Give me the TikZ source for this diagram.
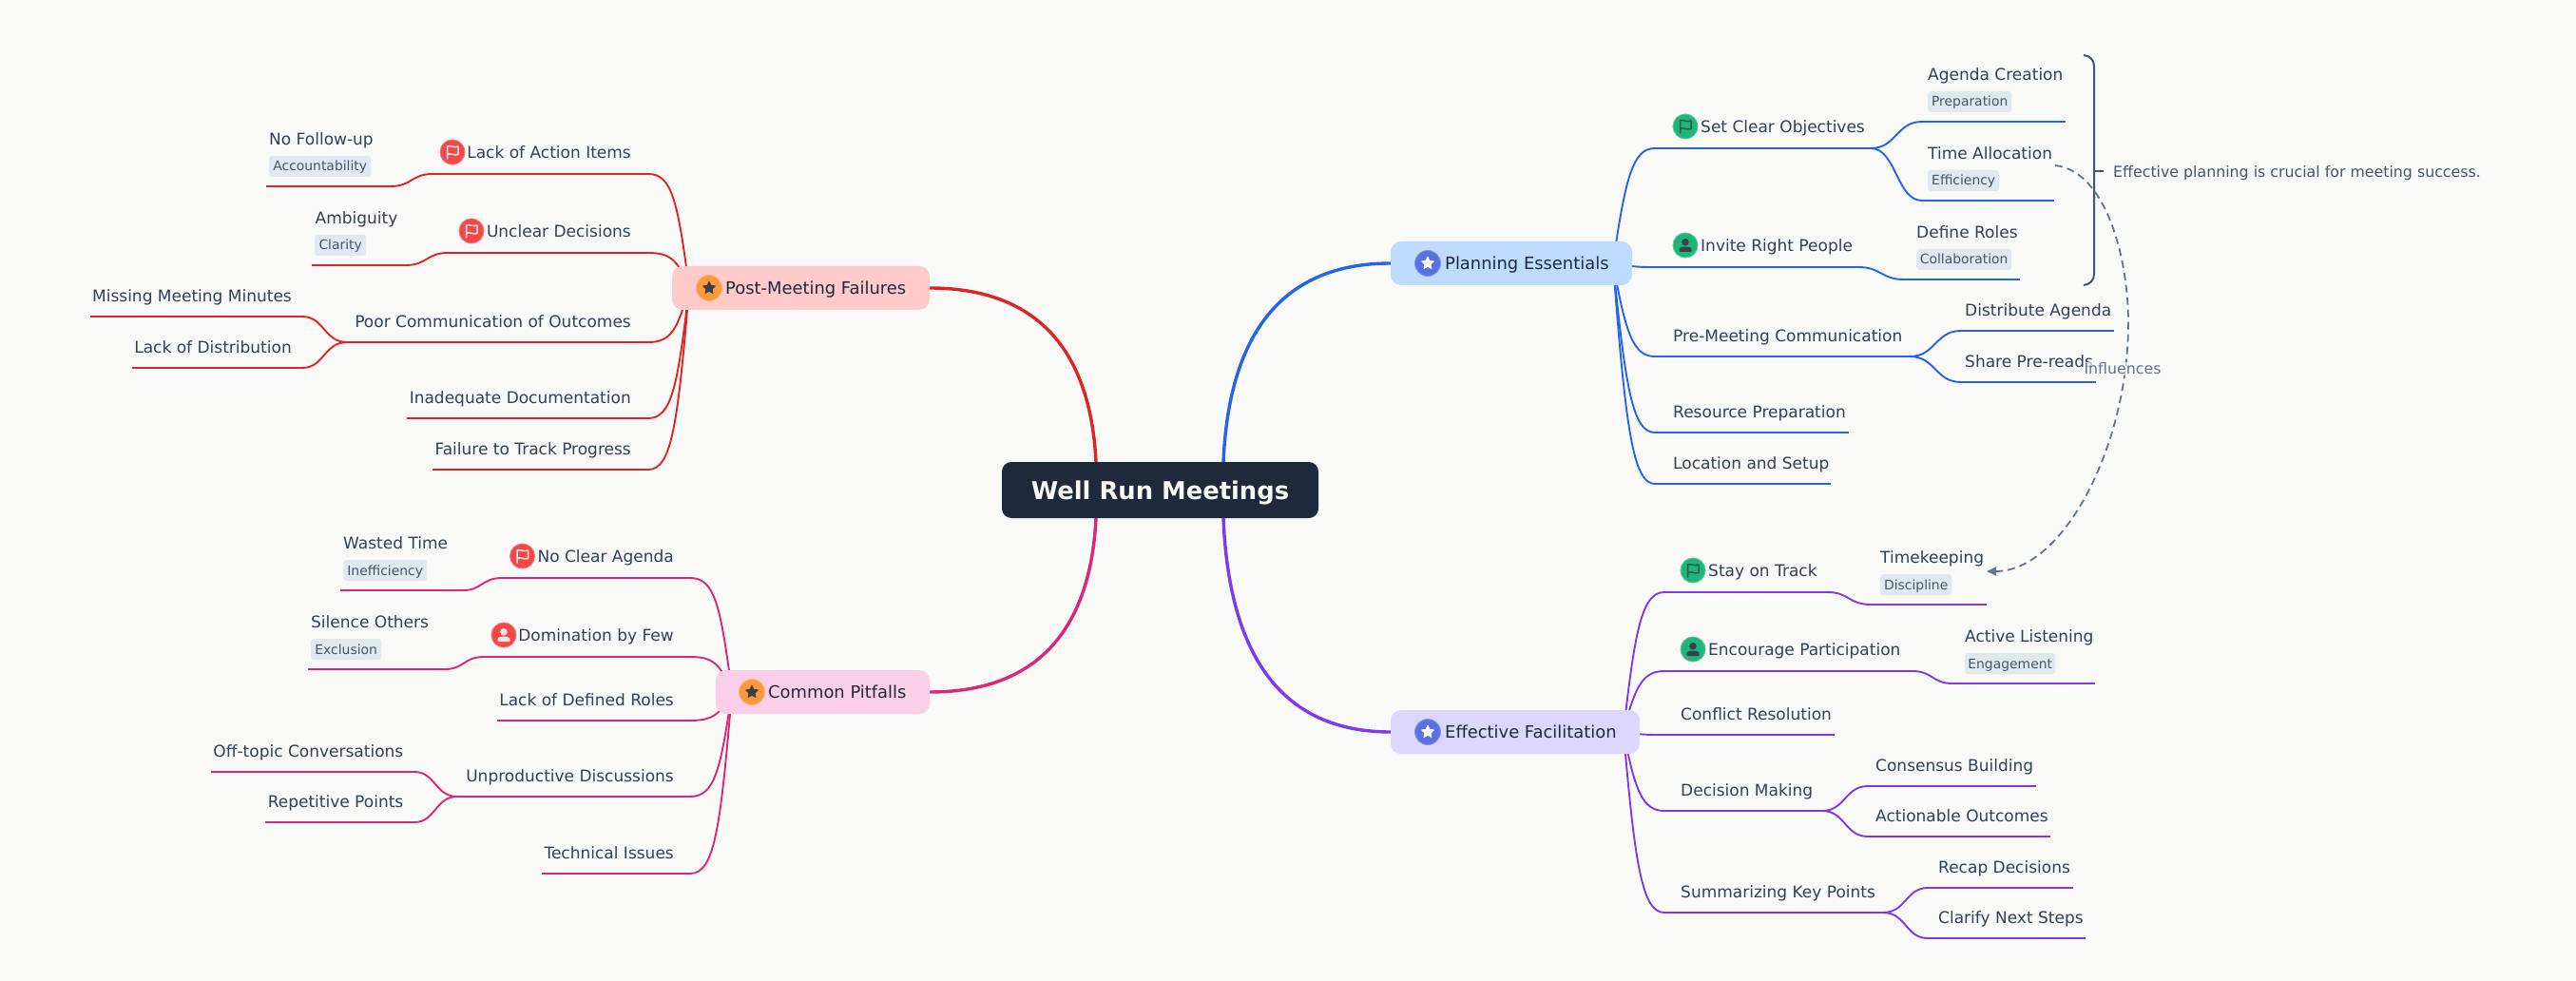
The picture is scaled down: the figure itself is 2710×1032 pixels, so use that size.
\documentclass[tikz,border=0pt]{standalone}
\usepackage{fontspec}
\setmainfont{DejaVu Sans}
\usetikzlibrary{arrows.meta,shapes.geometric,calc}
\pgfdeclarelayer{edgelayer}
\pgfsetlayers{edgelayer,main}
\definecolor{bgc}{HTML}{F9F9F7}
\definecolor{rootc}{HTML}{1E293B}
\definecolor{ink}{HTML}{334155}
\definecolor{inkd}{HTML}{1E293B}
\definecolor{tagf}{HTML}{E2E8F0}
\definecolor{tagt}{HTML}{475569}
\definecolor{noteC}{HTML}{475569}
\definecolor{linkC}{HTML}{64748B}
\definecolor{cblue}{HTML}{2563EB}
\definecolor{cred}{HTML}{DC2626}
\definecolor{cpink}{HTML}{DB2777}
\definecolor{cpurp}{HTML}{7C3AED}
\definecolor{fblue}{HTML}{BFDBFE}
\definecolor{fred}{HTML}{FECACA}
\definecolor{fpink}{HTML}{FBCFE8}
\definecolor{fpurp}{HTML}{DDD6FE}
\definecolor{icB}{HTML}{5A72E0}
\definecolor{icO}{HTML}{FB9A3C}
\definecolor{icG}{HTML}{1FB57A}
\definecolor{icR}{HTML}{F44748}
\definecolor{glD}{HTML}{3A4048}
\definecolor{glG}{HTML}{2C5A4C}
\definecolor{glW}{HTML}{FFE4E4}
\tikzset{
  x=1pt,y=-1pt,
  branchbox/.style={rounded corners=11pt,minimum height=46pt,inner sep=0pt,draw=none},
  txt/.style={font=\fontsize{17}{20}\selectfont,text=ink,inner sep=0pt},
  btxt/.style={font=\fontsize{17.9}{20}\selectfont,text=inkd,inner sep=0pt},
  tagbox/.style={fill=tagf,rounded corners=3pt,inner sep=0pt,anchor=west,text=tagt,text height=12pt,text depth=2pt,align=center,font=\fontsize{13.9}{16}\selectfont},
  ico/.style={circle,minimum size=#1,inner sep=0pt},
  hl/.style={line width=2.3pt},
  cv/.style={line width=1.9pt},
  main/.style={line width=3.4pt},
}
\newcommand{\flagmark}[2]{%
  \draw[#2,line width=1.5pt,line join=round,line cap=round] ($(#1)+(-5.5,7)$) -- ($(#1)+(-5.5,-6)$)
    .. controls ($(#1)+(-2,-7.5)$) and ($(#1)+(2,-4)$) .. ($(#1)+(6,-6)$) -- ($(#1)+(6,2.5)$)
    .. controls ($(#1)+(2,4)$) and ($(#1)+(-2,0.5)$) .. ($(#1)+(-5.5,2.5)$);}
\newcommand{\personmark}[2]{%
  \fill[#2] ($(#1)+(0,-3.2)$) circle (3.8);
  \fill[#2,rounded corners=1pt] ($(#1)+(-6.5,7)$) -- ($(#1)+(-6.5,4)$) .. controls ($(#1)+(-5,1)$) and ($(#1)+(5,1)$) .. ($(#1)+(6.5,4)$) -- ($(#1)+(6.5,7)$) -- cycle;}
\newcommand{\starmark}[2]{%
  \node[star,star points=5,star point ratio=2.1,fill=#2,draw=#2,line width=1.2pt,line join=round,inner sep=0pt,minimum size=13pt] at (#1) {};}
\newcommand{\icondisc}[5]{%
  \node[ico=#4,fill=#5,draw=#5!75!white,line width=0.9pt] (#1) at (#2,#3) {};}
\newcommand{\lbl}[5]{\node[txt,anchor=base #2] (#1) at (#3,#4+6.4) {#5};}
\newcommand{\baseln}[5]{\coordinate (#1-a) at (#2,#4); \coordinate (#1-b) at (#3,#4);
  \begin{pgfonlayer}{edgelayer}\draw[hl,#5] (#1-a) -- (#1-b);\end{pgfonlayer}}
\newcommand{\tagg}[6]{\node[tagbox,minimum width=#3pt,minimum height=#5pt-#4pt] (#1) at (#2,{(#4+#5)/2}) {#6};}
\begin{document}
\begin{tikzpicture}
\useasboundingbox (0,0) rectangle (2710,1032);
\begin{pgfonlayer}{edgelayer}
\fill[bgc] (0,0) rectangle (2710,1032);
\end{pgfonlayer}
% ---- root and main branch boxes
\node[fill=rootc,rounded corners=10pt,minimum width=333pt,minimum height=59pt,inner sep=0pt,text=bgc,text height=24pt,text depth=3.6pt,font=\bfseries\fontsize{25.8}{30}\selectfont] (root) at (1220.5,515.5) {Well Run Meetings};
\coordinate (rtl) at (1153,486); \coordinate (rtr) at (1287,486);
\coordinate (rbl) at (1153,545); \coordinate (rbr) at (1287,545);

\node[branchbox,fill=fblue,minimum width=254pt] (plan) at (1590,277) {};
\node[btxt,anchor=base west] (plant) at (1520,283.8) {Planning Essentials};
\icondisc{planic}{1502}{277}{27}{icB}\starmark{planic}{white}

\node[branchbox,fill=fpurp,minimum width=262pt] (faci) at (1594,770) {};
\node[btxt,anchor=base west] (facit) at (1520,776.8) {Effective Facilitation};
\icondisc{faciic}{1502}{770}{27}{icB}\starmark{faciic}{white}

\node[branchbox,fill=fred,minimum width=271pt] (post) at (842.5,303) {};
\node[btxt,anchor=base west] (postt) at (763,309.8) {Post-Meeting Failures};
\icondisc{postic}{746}{303}{27}{icO}\starmark{postic}{glD}

\node[branchbox,fill=fpink,minimum width=225pt] (pit) at (865.5,728) {};
\node[btxt,anchor=base west] (pitt) at (808,734.8) {Common Pitfalls};
\icondisc{pitic}{791}{728}{27}{icO}\starmark{pitic}{glD}

\coordinate (plans) at (1697,277); \coordinate (facis) at (1708,770);
\coordinate (posts) at (725,303); \coordinate (pits) at (770,728);

% ---- root connectors
\begin{pgfonlayer}{edgelayer}
\draw[main,cblue] (rtr) .. controls (1292,370) and (1335,277) .. (plan.west);
\draw[main,cpurp] (rbr) .. controls (1292,670) and (1335,770) .. (faci.west);
\draw[main,cred] (rtl) .. controls (1148,384) and (1104,303) .. (post.east);
\draw[main,cpink] (rbl) .. controls (1148,647) and (1104,728) .. (pit.east);
\end{pgfonlayer}

% ---- Planning Essentials
\baseln{sco}{1741}{1968}{156}{cblue}
\icondisc{scoic}{1773}{133}{26}{icG}\flagmark{scoic}{glG}
\lbl{scot}{west}{1789}{133}{Set Clear Objectives}
\baseln{irp}{1741}{1955}{281}{cblue}
\icondisc{irpic}{1773}{258}{26}{icG}\personmark{irpic}{glD}
\lbl{irpt}{west}{1789}{258}{Invite Right People}
\baseln{pmc}{1741}{2009}{375}{cblue}
\lbl{pmct}{west}{1760}{353}{Pre-Meeting Communication}
\baseln{res}{1741}{1945}{455}{cblue}
\lbl{rest}{west}{1760}{433}{Resource Preparation}
\baseln{loc}{1741}{1926}{509}{cblue}
\lbl{loct}{west}{1760}{487}{Location and Setup}

\baseln{agc}{2022}{2173}{128}{cblue}
\lbl{agct}{west}{2028}{78}{Agenda Creation}
\tagg{agctag}{2028}{88}{96}{118}{Preparation}
\baseln{tal}{2022}{2161}{211}{cblue}
\lbl{talt}{west}{2028}{161}{Time Allocation}
\tagg{taltag}{2028}{75}{179}{201}{Efficiency}
\baseln{drl}{2003}{2125}{294}{cblue}
\lbl{drlt}{west}{2016}{244}{Define Roles}
\tagg{drltag}{2016}{100}{262}{284}{Collaboration}
\baseln{dag}{2063}{2224}{348}{cblue}
\lbl{dagt}{west}{2067}{326}{Distribute Agenda}
\baseln{spr}{2063}{2205}{402}{cblue}
\lbl{sprt}{west}{2067}{380}{Share Pre-reads}

\begin{pgfonlayer}{edgelayer}
\draw[cv,cblue] (plans) .. controls (1710,186) and (1718,156) .. (sco-a);
\draw[cv,cblue] (plans) .. controls (1720,281) and (1725,281) .. (irp-a);
\draw[cv,cblue] (plans) .. controls (1710,350) and (1718,375) .. (pmc-a);
\draw[cv,cblue] (plans) .. controls (1710,410) and (1718,455) .. (res-a);
\draw[cv,cblue] (plans) .. controls (1710,450) and (1718,509) .. (loc-a);
\draw[cv,cblue] (sco-b) .. controls (1995,156) and (1995,128) .. (agc-a);
\draw[cv,cblue] (sco-b) .. controls (1995,156) and (1995,211) .. (tal-a);
\draw[cv,cblue] (irp-b) .. controls (1979,281) and (1979,294) .. (drl-a);
\draw[cv,cblue] (pmc-b) .. controls (2036,375) and (2036,348) .. (dag-a);
\draw[cv,cblue] (pmc-b) .. controls (2036,375) and (2036,402) .. (spr-a);
\end{pgfonlayer}

% ---- Effective Facilitation
\baseln{sot}{1751}{1923}{623}{cpurp}
\icondisc{sotic}{1781}{600}{26}{icG}\flagmark{sotic}{glG}
\lbl{sott}{west}{1797}{600}{Stay on Track}
\baseln{enc}{1751}{2012}{706}{cpurp}
\icondisc{encic}{1781}{683}{26}{icG}\personmark{encic}{glD}
\lbl{enct}{west}{1797}{683}{Encourage Participation}
\baseln{con}{1745}{1930}{773}{cpurp}
\lbl{cont}{west}{1768}{751}{Conflict Resolution}
\baseln{dec}{1751}{1917}{853}{cpurp}
\lbl{dect}{west}{1768}{831}{Decision Making}
\baseln{skp}{1751}{1981}{960}{cpurp}
\lbl{skpt}{west}{1768}{938}{Summarizing Key Points}

\baseln{tmk}{1968}{2090}{636}{cpurp}
\lbl{tmkt}{west}{1978}{586}{Timekeeping}
\tagg{tmktag}{1978}{75}{604}{626}{Discipline}
\baseln{acl}{2054}{2204}{719}{cpurp}
\lbl{aclt}{west}{2067}{669}{Active Listening}
\tagg{acltag}{2067}{95}{687}{709}{Engagement}
\baseln{cbu}{1965}{2142}{827}{cpurp}
\lbl{cbut}{west}{1973}{805}{Consensus Building}
\baseln{aco}{1965}{2157}{880}{cpurp}
\lbl{acot}{west}{1973}{858}{Actionable Outcomes}
\baseln{rde}{2028}{2181}{934}{cpurp}
\lbl{rdet}{west}{2039}{912}{Recap Decisions}
\baseln{cns}{2028}{2194}{987}{cpurp}
\lbl{cnst}{west}{2039}{965}{Clarify Next Steps}

\begin{pgfonlayer}{edgelayer}
\draw[cv,cpurp] (facis) .. controls (1720,660) and (1728,623) .. (sot-a);
\draw[cv,cpurp] (facis) .. controls (1720,722) and (1728,706) .. (enc-a);
\draw[cv,cpurp] (facis) .. controls (1725,773) and (1735,773) .. (con-a);
\draw[cv,cpurp] (facis) .. controls (1720,832) and (1728,853) .. (dec-a);
\draw[cv,cpurp] (facis) .. controls (1720,912) and (1728,960) .. (skp-a);
\draw[cv,cpurp] (sot-b) .. controls (1945,623) and (1945,636) .. (tmk-a);
\draw[cv,cpurp] (enc-b) .. controls (2033,706) and (2033,719) .. (acl-a);
\draw[cv,cpurp] (dec-b) .. controls (1941,853) and (1941,827) .. (cbu-a);
\draw[cv,cpurp] (dec-b) .. controls (1941,853) and (1941,880) .. (aco-a);
\draw[cv,cpurp] (skp-b) .. controls (2005,960) and (2005,934) .. (rde-a);
\draw[cv,cpurp] (skp-b) .. controls (2005,960) and (2005,987) .. (cns-a);
\end{pgfonlayer}

% ---- Post-Meeting Failures
\baseln{lai}{455}{682}{183}{cred}
\icondisc{laiic}{476}{160}{26}{icR}\flagmark{laiic}{glW}
\lbl{lait}{east}{664}{160}{Lack of Action Items}
\baseln{und}{471}{682}{266}{cred}
\icondisc{undic}{496}{243}{26}{icR}\flagmark{undic}{glW}
\lbl{undt}{east}{664}{243}{Unclear Decisions}
\baseln{pco}{365}{682}{360}{cred}
\lbl{pcot}{east}{664}{338}{Poor Communication of Outcomes}
\baseln{ind}{428}{682}{440}{cred}
\lbl{indt}{east}{664}{418}{Inadequate Documentation}
\baseln{ftp}{455}{682}{494}{cred}
\lbl{ftpt}{east}{664}{472}{Failure to Track Progress}

\baseln{nfu}{280}{411}{196}{cred}
\lbl{nfut}{west}{283}{146}{No Follow-up}
\tagg{nfutag}{283}{107}{164}{186}{Accountability}
\baseln{amb}{328}{427}{279}{cred}
\lbl{ambt}{west}{331.5}{229}{Ambiguity}
\tagg{ambtag}{331}{54}{247}{269}{Clarity}
\baseln{mmm}{95}{318}{333}{cred}
\lbl{mmmt}{east}{307}{311}{Missing Meeting Minutes}
\baseln{lod}{139}{318}{387}{cred}
\lbl{lodt}{east}{307}{365}{Lack of Distribution}

\begin{pgfonlayer}{edgelayer}
\draw[cv,cred] (posts) .. controls (713,212) and (707,183) .. (lai-b);
\draw[cv,cred] (posts) .. controls (713,275) and (707,266) .. (und-b);
\draw[cv,cred] (posts) .. controls (713,345) and (707,360) .. (pco-b);
\draw[cv,cred] (posts) .. controls (713,405) and (707,440) .. (ind-b);
\draw[cv,cred] (posts) .. controls (713,445) and (707,494) .. (ftp-b);
\draw[cv,cred] (lai-a) .. controls (433,183) and (433,196) .. (nfu-b);
\draw[cv,cred] (und-a) .. controls (449,266) and (449,279) .. (amb-b);
\draw[cv,cred] (pco-a) .. controls (341,360) and (341,333) .. (mmm-b);
\draw[cv,cred] (pco-a) .. controls (341,360) and (341,387) .. (lod-b);
\end{pgfonlayer}

% ---- Common Pitfalls
\baseln{nca}{528}{726}{608}{cpink}
\icondisc{ncaic}{549.5}{585}{26}{icR}\flagmark{ncaic}{glW}
\lbl{ncat}{east}{709}{585}{No Clear Agenda}
\baseln{dbf}{509}{726}{691}{cpink}
\icondisc{dbfic}{530}{668}{26}{icR}\personmark{dbfic}{glW}
\lbl{dbft}{east}{709}{668}{Domination by Few}
\baseln{ldr}{523}{726}{758}{cpink}
\lbl{ldrt}{east}{709}{736}{Lack of Defined Roles}
\baseln{udi}{481}{726}{838}{cpink}
\lbl{udit}{east}{709}{816}{Unproductive Discussions}
\baseln{tis}{570}{726}{919}{cpink}
\lbl{tist}{east}{709}{897}{Technical Issues}

\baseln{wti}{358}{487}{621}{cpink}
\lbl{wtit}{west}{361}{571}{Wasted Time}
\tagg{wtitag}{361}{88}{589}{611}{Inefficiency}
\baseln{sio}{324}{468}{704}{cpink}
\lbl{siot}{west}{327}{654}{Silence Others}
\tagg{siotag}{327}{74}{672}{694}{Exclusion}
\baseln{otc}{222}{436}{812}{cpink}
\lbl{otct}{east}{424.5}{790}{Off-topic Conversations}
\baseln{rep}{279}{436}{865}{cpink}
\lbl{rept}{east}{424.5}{843}{Repetitive Points}

\begin{pgfonlayer}{edgelayer}
\draw[cv,cpink] (pits) .. controls (758,637) and (752,608) .. (nca-b);
\draw[cv,cpink] (pits) .. controls (758,700) and (752,691) .. (dbf-b);
\draw[cv,cpink] (pits) .. controls (758,750) and (752,758) .. (ldr-b);
\draw[cv,cpink] (pits) .. controls (758,810) and (752,838) .. (udi-b);
\draw[cv,cpink] (pits) .. controls (758,870) and (752,919) .. (tis-b);
\draw[cv,cpink] (nca-a) .. controls (507,608) and (507,621) .. (wti-b);
\draw[cv,cpink] (dbf-a) .. controls (488,691) and (488,704) .. (sio-b);
\draw[cv,cpink] (udi-a) .. controls (458,838) and (458,812) .. (otc-b);
\draw[cv,cpink] (udi-a) .. controls (458,838) and (458,865) .. (rep-b);
\end{pgfonlayer}

% ---- summary bracket and its note
\node[anchor=base west,inner sep=0pt,text=noteC,font=\fontsize{15.8}{18}\selectfont] (note) at (2223,186.5) {Effective planning is crucial for meeting success.};
\coordinate (brt) at (2192,58); \coordinate (brb) at (2192,300); \coordinate (brm) at (2213,180);
\draw[noteC,line width=2pt] (brt) .. controls (2199,59) and (2203,63) .. (2203,70) -- (2203,288) .. controls (2203,295) and (2199,299) .. (brb);
\draw[noteC,line width=2pt] (2203,180) -- (brm);

% ---- dashed relation
\coordinate (infa) at (2162,174); \coordinate (infb) at (2090,601); \coordinate (infm) at (2239,340);
\draw[linkC,line width=1.8pt,dash pattern=on 8pt off 5pt,-{Triangle[length=10pt,width=9pt]}] (infa) .. controls (2215,180) and (2239,270) .. (infm) .. controls (2239,470) and (2170,601) .. (infb);
\node[inner sep=1pt,fill=bgc,fill opacity=0.7,text opacity=1,text=linkC,font=\fontsize{15.8}{18}\selectfont] (inft) at (2233,388) {Influences};
\end{tikzpicture}
\end{document}
